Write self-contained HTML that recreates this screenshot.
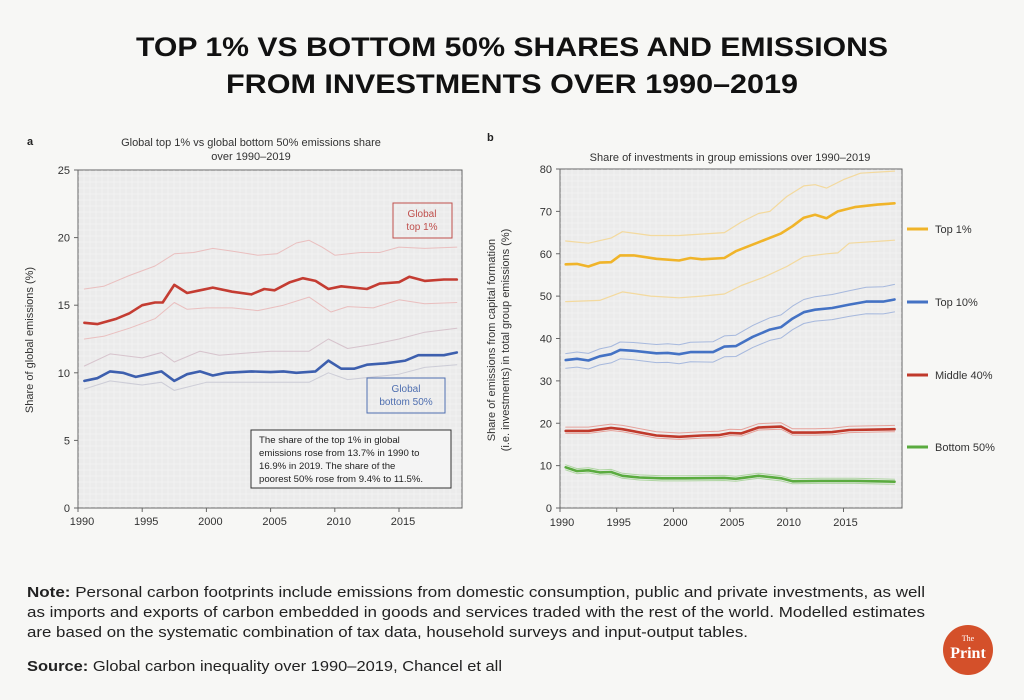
<!DOCTYPE html>
<html><head><meta charset="utf-8"><style>
html,body{margin:0;padding:0;background:#f7f7f5;}
svg{display:block;font-family:"Liberation Sans",Arial,sans-serif;}
</style></head><body>
<svg id="s" width="1024" height="700" viewBox="0 0 1024 700" xmlns="http://www.w3.org/2000/svg">
<rect width="1024" height="700" fill="#f7f7f5"/>
<text x="512" y="56" text-anchor="middle" font-size="27" font-weight="bold" fill="#111" textLength="752" lengthAdjust="spacingAndGlyphs">TOP 1% VS BOTTOM 50% SHARES AND EMISSIONS</text>
<text x="512" y="93" text-anchor="middle" font-size="27" font-weight="bold" fill="#111" textLength="572" lengthAdjust="spacingAndGlyphs">FROM INVESTMENTS OVER 1990–2019</text>

<!-- chart a -->
<text x="27" y="145" font-size="11" font-weight="bold" fill="#222">a</text>
<text x="251" y="146" text-anchor="middle" font-size="11" fill="#333">Global top 1% vs global bottom 50% emissions share</text>
<text x="251" y="160" text-anchor="middle" font-size="11" fill="#333">over 1990–2019</text>
<rect x="78" y="170" width="384" height="338" fill="#ebebeb" stroke="#666" stroke-width="1"/>
<g id="ga"></g>
<text x="33" y="340" transform="rotate(-90 33 340)" text-anchor="middle" font-size="11" fill="#333">Share of global emissions (%)</text>
<rect x="393" y="203" width="59" height="35" fill="none" stroke="#c0504d" stroke-width="1"/>
<text x="422" y="217" text-anchor="middle" font-size="10" fill="#c0504d">Global</text>
<text x="422" y="230" text-anchor="middle" font-size="10" fill="#c0504d">top 1%</text>
<rect x="367" y="378" width="78" height="35" fill="none" stroke="#4f6fb0" stroke-width="1"/>
<text x="406" y="392" text-anchor="middle" font-size="10" fill="#4f6fb0">Global</text>
<text x="406" y="405" text-anchor="middle" font-size="10" fill="#4f6fb0">bottom 50%</text>
<rect x="251" y="430" width="200" height="58" fill="#f4f4f4" stroke="#333" stroke-width="1"/>
<g font-size="9.6" fill="#222">
<text x="259" y="443">The share of the top 1% in global</text>
<text x="259" y="456">emissions rose from 13.7% in 1990 to</text>
<text x="259" y="469">16.9% in 2019. The share of the</text>
<text x="259" y="482">poorest 50% rose from 9.4% to 11.5%.</text>
</g>

<!-- chart b -->
<text x="487" y="141" font-size="11" font-weight="bold" fill="#222">b</text>
<text x="730" y="161" text-anchor="middle" font-size="11" fill="#333">Share of investments in group emissions over 1990–2019</text>
<rect x="560" y="169" width="342" height="339" fill="#ebebeb" stroke="#666" stroke-width="1"/>
<g id="gb"></g>
<text x="495" y="340" transform="rotate(-90 495 340)" text-anchor="middle" font-size="11" fill="#333">Share of emissions from capital formation</text>
<text x="509" y="340" transform="rotate(-90 509 340)" text-anchor="middle" font-size="11" fill="#333">(i.e. investments) in total group emissions (%)</text>
<g font-size="11" fill="#333">
<line x1="907" y1="229" x2="928" y2="229" stroke="#f0b429" stroke-width="3"/><text x="935" y="233">Top 1%</text>
<line x1="907" y1="302" x2="928" y2="302" stroke="#4472c4" stroke-width="3"/><text x="935" y="306">Top 10%</text>
<line x1="907" y1="375" x2="928" y2="375" stroke="#c0392b" stroke-width="3"/><text x="935" y="379">Middle 40%</text>
<line x1="907" y1="447" x2="928" y2="447" stroke="#5aab3f" stroke-width="3"/><text x="935" y="451">Bottom 50%</text>
</g>

<!-- notes -->
<g font-size="14.5" fill="#222">
<text x="27" y="597" textLength="898" lengthAdjust="spacingAndGlyphs"><tspan font-weight="bold">Note:</tspan> Personal carbon footprints include emissions from domestic consumption, public and private investments, as well</text>
<text x="27" y="617" textLength="898" lengthAdjust="spacingAndGlyphs">as imports and exports of carbon embedded in goods and services traded with the rest of the world. Modelled estimates</text>
<text x="27" y="637" textLength="721" lengthAdjust="spacingAndGlyphs">are based on the systematic combination of tax data, household surveys and input-output tables.</text>
<text x="27" y="671" textLength="475" lengthAdjust="spacingAndGlyphs"><tspan font-weight="bold">Source:</tspan> Global carbon inequality over 1990–2019, Chancel et all</text>
</g>
<circle cx="968" cy="650" r="25" fill="#d4502a"/>
<text x="968" y="641" text-anchor="middle" font-family="Liberation Serif,serif" font-size="8" fill="#fff">The</text>
<text x="968" y="658" text-anchor="middle" font-family="Liberation Serif,serif" font-size="16" font-weight="bold" fill="#fff">Print</text>
</svg>
<script>
const NS="http://www.w3.org/2000/svg";
function el(g,tag,at){const e=document.createElementNS(NS,tag);for(const k in at)e.setAttribute(k,at[k]);g.appendChild(e);return e;}
function path(g,pts,fx,fy,col,w,op){let d=pts.map((p,i)=>(i?'L':'M')+fx(p[0]).toFixed(1)+' '+fy(p[1]).toFixed(1)).join(' ');el(g,'path',{d:d,fill:'none',stroke:col,'stroke-width':w,'stroke-opacity':op,'stroke-linejoin':'round','stroke-linecap':'round'});}
function grid(g,x0,x1,y0,y1){for(let x=x0+6;x<x1;x+=6)el(g,'line',{x1:x,y1:y0,x2:x,y2:y1,stroke:'#fff','stroke-width':0.5,'stroke-opacity':0.5});for(let y=y0+6;y<y1;y+=6)el(g,'line',{x1:x0,y1:y,x2:x1,y2:y,stroke:'#fff','stroke-width':0.5,'stroke-opacity':0.5});}
// chart a
(function(){const g=document.getElementById('ga');
const fx=y=>78+(y-1990)*12.84, fy=v=>508-v*13.52;
grid(g,78,462,170,508);
[0,5,10,15,20,25].forEach(v=>{el(g,'line',{x1:74,x2:78,y1:fy(v),y2:fy(v),stroke:'#666'});const t=el(g,'text',{x:70,y:fy(v)+4,'text-anchor':'end','font-size':11,fill:'#333'});t.textContent=v;});
[1990,1995,2000,2005,2010,2015].forEach(v=>{el(g,'line',{x1:fx(v),x2:fx(v),y1:508,y2:512,stroke:'#666'});const t=el(g,'text',{x:fx(v)+4,y:525,'text-anchor':'middle','font-size':11,fill:'#333'});t.textContent=v;});
const ru=[[1990.5,16.2],[1992,16.4],[1994,17.2],[1996,17.9],[1997.5,18.8],[1999,18.9],[2000.5,19.2],[2002,19],[2004,18.7],[2005.5,18.8],[2007,19.6],[2008,19.8],[2009,19.3],[2010,18.7],[2012,18.9],[2013.5,18.9],[2015,19.3],[2017,19.2],[2019.5,19.3]];
const rl=[[1990.5,12.5],[1992,12.7],[1994,13.3],[1996,14],[1997.5,15.2],[1998.5,14.7],[2000,14.8],[2002,14.8],[2004,14.6],[2006,15],[2008,15.6],[2009.7,14.5],[2011,14.9],[2013,14.8],[2015,15.4],[2017,15.1],[2019.5,15.2]];
const r=[[1990.5,13.7],[1991.5,13.6],[1993,14.0],[1994,14.4],[1995,15.0],[1996,15.2],[1996.6,15.2],[1997.5,16.5],[1998.5,15.9],[1999.5,16.1],[2000.5,16.3],[2002,16.0],[2003.5,15.8],[2004.5,16.2],[2005.3,16.1],[2006.5,16.7],[2007.5,17.0],[2008.5,16.8],[2009.5,16.2],[2010.5,16.4],[2012.5,16.2],[2013.5,16.6],[2015,16.7],[2015.8,17.1],[2017,16.8],[2018.5,16.9],[2019.5,16.9]];
const bu=[[1990.5,10.5],[1992.5,11.4],[1995,11.1],[1996.5,11.5],[1997.5,10.8],[1999.5,11.6],[2001,11.3],[2005,11.6],[2008,11.6],[2009.5,12.5],[2011,11.8],[2013,12.1],[2015,12.5],[2017,13],[2019.5,13.3]];
const bl=[[1990.5,8.8],[1992.5,9.4],[1995,9.1],[1996.5,9.3],[1997.5,8.7],[2000,9.3],[2005,9.3],[2008,9.3],[2009.5,10.0],[2011,9.5],[2013,9.7],[2015,9.9],[2017,10.4],[2019.5,10.6]];
const b=[[1990.5,9.4],[1991.5,9.6],[1992.5,10.1],[1993.5,10.0],[1994.5,9.7],[1995.5,9.9],[1996.5,10.1],[1997.5,9.4],[1998.5,9.9],[1999.5,10.1],[2000.5,9.8],[2001.5,10.0],[2003.5,10.1],[2005,10.05],[2006,10.1],[2007,10.0],[2008.5,10.1],[2009.5,10.9],[2010.5,10.3],[2011.5,10.3],[2012.5,10.6],[2014,10.7],[2015.5,10.9],[2016.5,11.3],[2018.5,11.3],[2019.5,11.5]];
path(g,ru,fx,fy,'#e8a0a0',1,0.6);path(g,rl,fx,fy,'#e8a0a0',1,0.6);
path(g,bu,fx,fy,'#c8a8b8',1,0.6);path(g,bl,fx,fy,'#b8b8c8',1,0.6);
path(g,r,fx,fy,'#c43c32',2.6,1);path(g,b,fx,fy,'#3d5fae',2.6,1);
})();
// chart b
(function(){const g=document.getElementById('gb');
const fx=y=>560+(y-1990)*11.34, fy=v=>508-v*4.2375;
grid(g,560,902,169,508);
[0,10,20,30,40,50,60,70,80].forEach(v=>{el(g,'line',{x1:556,x2:560,y1:fy(v),y2:fy(v),stroke:'#666'});const t=el(g,'text',{x:552,y:fy(v)+4,'text-anchor':'end','font-size':11,fill:'#333'});t.textContent=v;});
[1990,1995,2000,2005,2010,2015].forEach(v=>{el(g,'line',{x1:fx(v),x2:fx(v),y1:508,y2:512,stroke:'#666'});const t=el(g,'text',{x:fx(v)+2,y:526,'text-anchor':'middle','font-size':11,fill:'#333'});t.textContent=v;});
const yu=[[1990.5,63],[1992.5,62.5],[1994.5,63.7],[1995.5,65.2],[1998,64.3],[2000.5,64.3],[2004.5,65],[2006,67.5],[2007.5,69.5],[2008.5,70],[2010,73.5],[2011.5,76],[2012.5,76.3],[2013.5,75.5],[2015,77.5],[2016.5,79],[2019.5,79.5]];
const yl=[[1990.5,48.7],[1993.5,49],[1995.5,51],[1998,50],[2000.5,49.6],[2002.5,50],[2004.5,50.5],[2006,52.5],[2008,54.5],[2010,57],[2011.5,59.3],[2013.5,60],[2014.5,60.2],[2015.5,62.5],[2019.5,63.2]];
const y=[[1990.5,57.5],[1991.5,57.6],[1992.5,57.0],[1993.5,57.9],[1994.5,58.0],[1995.3,59.6],[1996.5,59.6],[1998.5,58.8],[2000.5,58.4],[2001.5,59.0],[2002.5,58.7],[2004.5,59.0],[2005.5,60.6],[2007.5,62.7],[2009.5,64.8],[2010.5,66.5],[2011.5,68.5],[2012.5,69.2],[2013.5,68.4],[2014.5,70.0],[2016,71.0],[2018,71.6],[2019.5,71.9]];
const b=[[1990.5,34.9],[1991.5,35.2],[1992.5,34.8],[1993.5,35.8],[1994.5,36.3],[1995.3,37.3],[1996.5,37.1],[1998.5,36.5],[1999.5,36.6],[2000.5,36.3],[2001.5,36.8],[2003.5,36.8],[2004.5,38.1],[2005.5,38.2],[2007,40.4],[2008.5,42.1],[2009.5,42.7],[2010.5,44.7],[2011.5,46.2],[2012.5,46.8],[2014,47.2],[2015.5,48.0],[2017,48.7],[2018.5,48.7],[2019.5,49.2]];
const bu=b.map(p=>[p[0],p[1]+1.5+(p[0]-1990)*0.07]), bl=b.map(p=>[p[0],p[1]-1.9-(p[0]-1990)*0.035]);
const r=[[1990.5,18.2],[1992.5,18.2],[1994.5,18.9],[1995.5,18.6],[1998.5,17.1],[2000.5,16.8],[2002.5,17.1],[2004,17.2],[2005,17.7],[2006,17.6],[2007.5,19.0],[2009.5,19.2],[2010.5,17.8],[2012.5,17.8],[2014,17.9],[2015.5,18.4],[2019.5,18.6]];
const gr=[[1990.5,9.6],[1991.5,8.7],[1992.5,8.9],[1993.5,8.4],[1994.5,8.5],[1995.5,7.6],[1997,7.2],[1999,7.0],[2001,7.0],[2004.5,7.1],[2005.5,6.9],[2007.5,7.6],[2009.5,7.0],[2010.5,6.3],[2013,6.4],[2016,6.4],[2019.5,6.2]];
path(g,yu,fx,fy,'#f5d58a',1.2,0.8);path(g,yl,fx,fy,'#f5d58a',1.2,0.8);
path(g,bu,fx,fy,'#9fb3dc',1,0.9);path(g,bl,fx,fy,'#9fb3dc',1,0.9);
path(g,r.map(p=>[p[0],p[1]+0.9]),fx,fy,'#e59a92',1,0.9);path(g,r.map(p=>[p[0],p[1]-0.6]),fx,fy,'#e59a92',1,0.9);
path(g,gr.map(p=>[p[0],p[1]+0.6]),fx,fy,'#a9d39a',1,0.9);path(g,gr.map(p=>[p[0],p[1]-0.6]),fx,fy,'#a9d39a',1,0.9);
path(g,y,fx,fy,'#f0b429',2.6,1);path(g,b,fx,fy,'#4472c4',2.6,1);path(g,r,fx,fy,'#c0392b',2.6,1);path(g,gr,fx,fy,'#5aab3f',2.6,1);
})();
</script>
</body></html>
